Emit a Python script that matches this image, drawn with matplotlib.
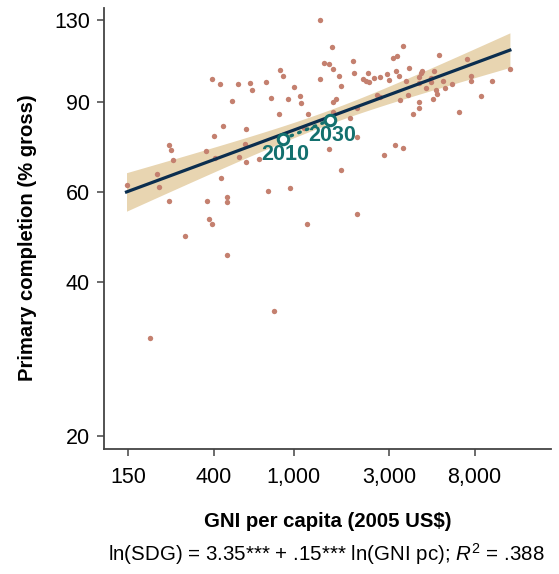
import numpy as np
import matplotlib
matplotlib.use("Agg")
import matplotlib.pyplot as plt
from matplotlib.ticker import NullLocator

plt.rcParams["font.family"] = ["Liberation Sans", "DejaVu Sans"]
plt.rcParams["mathtext.fontset"] = "custom"
plt.rcParams["mathtext.rm"] = "Liberation Sans"
plt.rcParams["mathtext.it"] = "Liberation Sans:italic"

# GNI per capita (2005 US$) and primary completion (% gross), one entry per country
gni = [1354, 1418, 1496, 1359, 856, 885, 391, 431, 530, 606,
       623, 729, 1005, 774, 938, 1080, 1092, 495, 843, 1184,
       446, 400, 577, 1127, 906, 573, 239, 245, 366, 407,
       533, 577, 670, 251, 209, 147, 214, 436, 239, 369,
       464, 466, 743, 963, 377, 391, 1170, 1506, 288, 466,
       801, 192, 1548, 1566, 1970, 1993, 1689, 1717, 1627, 1566,
       1566, 2063, 1904, 2077, 1717, 2070, 2226, 2295, 2384, 2341,
       2516, 2696, 2911, 2979, 3140, 3265, 3498, 3239, 3352, 3747,
       3633, 2613, 2696, 3380, 3717, 3191, 3498, 2822, 4232, 4301,
       4351, 4203, 4823, 4857, 5010, 4555, 4203, 4232, 3950, 5306,
       5555, 5108, 5203, 4970, 5664, 6159, 6697, 7316, 7660, 7660,
       8622, 9748, 11985]
completion = [130.0, 107.0, 106.6, 99.8, 103.9, 100.9, 99.5, 97.3, 97.3, 97.9,
              94.9, 98.3, 96.2, 91.6, 91.1, 92.2, 89.4, 90.4, 85.2, 85.1,
              80.6, 77.1, 79.7, 80.1, 77.8, 74.4, 74.0, 72.5, 72.2, 70.0,
              70.3, 68.5, 69.6, 69.2, 65.1, 62.0, 61.2, 63.8, 57.6, 57.6,
              58.5, 57.4, 60.2, 61.0, 53.0, 52.0, 51.8, 72.8, 49.1, 45.2,
              35.1, 31.1, 115.0, 104.1, 107.9, 102.5, 101.1, 96.5, 91.1, 89.9,
              85.8, 87.5, 83.5, 76.7, 66.1, 54.2, 99.8, 98.8, 98.5, 102.3,
              100.0, 100.7, 102.0, 99.2, 109.4, 110.6, 115.8, 103.2, 101.2, 104.6,
              98.8, 92.6, 91.8, 90.8, 92.9, 74.2, 73.2, 70.8, 100.7, 102.5,
              103.4, 97.8, 100.3, 98.3, 103.5, 95.5, 90.0, 87.4, 85.1, 111.2,
              98.9, 94.8, 93.3, 91.2, 95.7, 97.3, 85.9, 109.1, 101.1, 98.9,
              92.3, 98.6, 104.1]

# log-log fit as drawn, and its confidence band (in ln units)
fit_intercept = 3.37
fit_slope = 0.145
band_center = 7.33   # mean ln(GNI pc)
band_se0 = 0.0315
band_se_slope = 0.0345

# 2010 -> 2030 projection
proj_labels = ["2010", "2030"]
proj_gni = [888, 1524]
proj_completion = [76.1, 82.9]

x_ticks = [150, 400, 1000, 3000, 8000]
x_ticklabels = ["150", "400", "1,000", "3,000", "8,000"]
y_ticks = [20, 40, 60, 90, 130]

dot_color = "#c4806f"
band_color = "#e8d5b1"
line_color = "#0b2e4f"
teal = "#13706e"

fig = plt.figure(figsize=(5.59, 5.74), dpi=100)
ax = fig.add_axes([0.186, 0.2178, 0.7996, 0.7683])

# regression band + line
lx = np.linspace(np.log(min(gni)), np.log(max(gni)), 200)
ly = fit_intercept + fit_slope * lx
hw = np.sqrt(band_se0 ** 2 + band_se_slope ** 2 * (lx - band_center) ** 2)
ax.fill_between(np.exp(lx), np.exp(ly - hw), np.exp(ly + hw), color=band_color, lw=0, zorder=1)

ax.scatter(gni, completion, s=15, color=dot_color, lw=0, zorder=2)
ax.plot(np.exp(lx), np.exp(ly), color=line_color, lw=2.3, zorder=3)

# projection: open circles joined by a dotted line
ax.plot(proj_gni, proj_completion, color=teal, lw=2.4, linestyle=(0, (0.5, 2.0)),
        dash_capstyle="round", zorder=4)
ax.plot(proj_gni, proj_completion, "o", ms=7.5, mfc="white", mec=teal, mew=2.2, zorder=5)
for lab, gx, cy in zip(proj_labels, proj_gni, proj_completion):
    ax.annotate(lab, xy=(gx, cy), xytext=(1.5, -11.5), textcoords="offset points",
                ha="center", va="center", fontsize=15.5, fontweight="bold", color=teal, zorder=6)

ax.set_xscale("log")
ax.set_yscale("log")
ax.set_xlim(113.5, 19200)
ax.set_ylim(18.86, 137.2)

ax.xaxis.set_minor_locator(NullLocator())
ax.yaxis.set_minor_locator(NullLocator())
ax.set_xticks(x_ticks)
ax.set_xticklabels(x_ticklabels)
ax.set_yticks(y_ticks)
ax.set_yticklabels([str(t) for t in y_ticks])
ax.tick_params(axis="both", labelsize=15.5, length=5, width=1.1, color="#444444")
ax.tick_params(axis="x", pad=8)
ax.tick_params(axis="y", pad=5)

for side in ["top", "right"]:
    ax.spines[side].set_visible(False)
for side in ["left", "bottom"]:
    ax.spines[side].set_color("#444444")
    ax.spines[side].set_linewidth(1.3)

ax.set_xlabel("GNI per capita (2005 US$)", fontsize=14.7, fontweight="bold", labelpad=17)
ax.set_ylabel("Primary completion (% gross)", fontsize=14.6, fontweight="bold")
ax.yaxis.set_label_coords(-0.15, 0.48)

fig.text(0.583, 0.035, r"ln(SDG) = 3.35*** + .15*** ln(GNI pc); $R^2$ = .388",
         ha="center", va="center", fontsize=14.8)

plt.savefig("out.png", dpi=100)
plt.close()
